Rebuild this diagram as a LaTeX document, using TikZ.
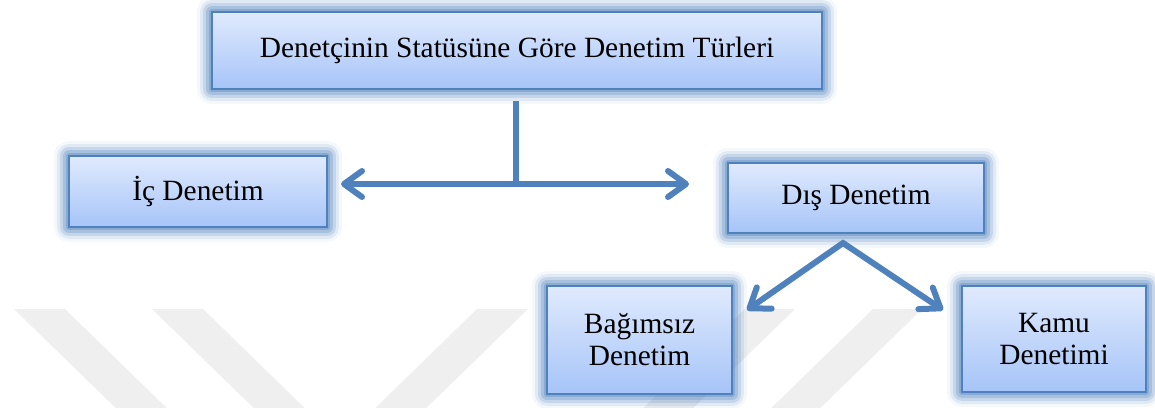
\documentclass[tikz,border=0pt]{standalone}
\usepackage{fontspec}
\setmainfont{Liberation Serif}
\usetikzlibrary{arrows.meta}
\definecolor{officeblue}{HTML}{4F81BD}
\definecolor{boxtop}{HTML}{E0EAFD}
\definecolor{boxbot}{HTML}{A6C4F8}
\definecolor{markgray}{HTML}{EFEFEF}
\tikzset{
  glowbox/.style={rectangle, draw=officeblue, line width=1pt,
    top color=boxtop, bottom color=boxbot, align=center, inner sep=0pt,
    font=\fontsize{14.7pt}{16pt}\selectfont,
    preaction={draw=officeblue, line width=15pt, opacity=0.06, line join=round},
    preaction={draw=officeblue, line width=12pt, opacity=0.12, line join=round},
    preaction={draw=officeblue, line width=9pt, opacity=0.18, line join=round},
    preaction={draw=officeblue, line width=6pt, opacity=0.26, line join=round},
    preaction={draw=officeblue, line width=3pt, opacity=0.34, line join=round}},
  conn/.style={draw=officeblue, line width=3pt},
  barb/.tip={Straight Barb[round, length=9pt, width=13pt]}
}
\begin{document}
\begin{tikzpicture}[x=0.5pt, y=-0.5pt]
\useasboundingbox (0,0) rectangle (1155,407);
\clip (0,0) rectangle (1155,407);

% faint background stripes
\fill[markgray] (14,309) -- (65,309) -- (179,420) -- (128,420) -- cycle;
\fill[markgray] (152,309) -- (203,309) -- (317,420) -- (266,420) -- cycle;
\fill[markgray] (477,309) -- (528,309) -- (414,420) -- (363,420) -- cycle;
\fill[markgray] (745,309) -- (795,309) -- (681,420) -- (631,420) -- cycle;
\fill[markgray] (873,309) -- (922,309) -- (808,420) -- (759,420) -- cycle;

% boxes
\node[glowbox, minimum width=305pt, minimum height=38.5pt] (top) at (517,50.5)
  {Denetçinin Statüsüne Göre Denetim Türleri};
\node[glowbox, minimum width=129pt, minimum height=35.5pt] (ic) at (198,191.5)
  {İç Denetim};
\node[glowbox, minimum width=128pt, minimum height=35pt] (dis) at (856,198)
  {Dış Denetim};
\node[glowbox, minimum width=92.5pt, minimum height=54pt] (bag) at (639.5,340)
  {Bağımsız\\Denetim};
\node[glowbox, minimum width=92pt, minimum height=53pt] (kamu) at (1054,339)
  {Kamu\\Denetimi};

% connectors
\coordinate (junc) at (516,184);
\coordinate (apex) at (843,243);
\coordinate (tipb) at (747,310);
\coordinate (tipk) at (943,310);

\draw[conn, line cap=rect, shorten <=7pt] (top.south -| junc) -- (junc);
\draw[conn, barb-barb, shorten <=6.5pt, shorten >=19pt]
  (junc -| ic.east) -- (junc -| dis.west);
\draw[conn, barb-barb, line join=miter] (tipb) -- (apex) -- (tipk);
\end{tikzpicture}
\end{document}
